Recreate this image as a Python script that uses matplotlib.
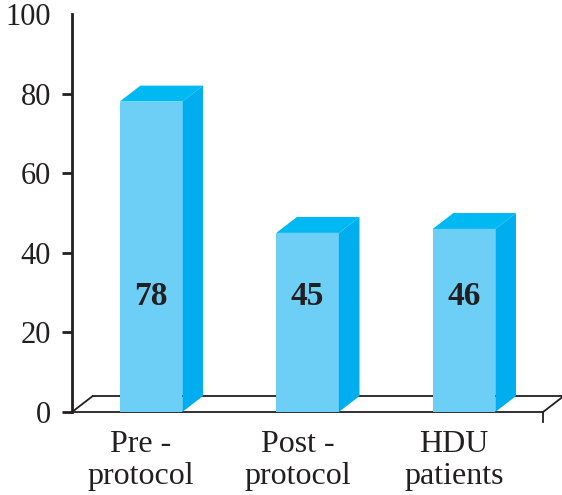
import matplotlib.pyplot as plt
from matplotlib.patches import Polygon

groups = ['Pre -\nprotocol', 'Post -\nprotocol', 'HDU\npatients']
values = [78, 45, 46]

front_col = '#6dcff6'
top_col = '#00b9f2'
side_col = '#00aeef'

plt.rcParams['font.family'] = ['Liberation Serif', 'DejaVu Serif']

fig = plt.figure(figsize=(5.62, 4.95), dpi=100)
ax = fig.add_axes([72 / 562, 83 / 495, 490 / 562, 398 / 495])

x0, x1 = -0.505, 2.626
ax.set_xlim(x0, x1)
ax.set_ylim(0, 100)

w = 0.40      # bar width
dx = 0.132    # depth offset in x
dy = 4.0      # depth offset in y

# floor of the 3d box
floor_r = 2.505
fl = dict(color='#231f20', lw=1.3, clip_on=False, zorder=1)
ax.plot([x0, floor_r], [0, 0], **fl)
ax.plot([x0 + dx, floor_r + dx], [dy, dy], **fl)
ax.plot([x0, x0 + dx], [0, dy], **fl)
ax.plot([floor_r, floor_r + dx], [0, dy], **fl)
ax.plot([floor_r, floor_r], [0, -2.4], **fl)

for i, v in enumerate(values):
    l, r = i - w / 2, i + w / 2
    ax.add_patch(Polygon([(l, 0), (r, 0), (r, v), (l, v)], closed=True,
                         facecolor=front_col, edgecolor='none', zorder=3))
    ax.add_patch(Polygon([(l, v), (r, v), (r + dx, v + dy), (l + dx, v + dy)], closed=True,
                         facecolor=top_col, edgecolor='none', zorder=3))
    ax.add_patch(Polygon([(r, 0), (r + dx, dy), (r + dx, v + dy), (r, v)], closed=True,
                         facecolor=side_col, edgecolor='none', zorder=3))
    ax.text(i, 29, str(v), ha='center', va='center', fontsize=24,
            fontweight='bold', color='#231f20', zorder=4)

for i, g in enumerate(groups):
    ax.text(i - 0.065, -4.5, g, ha='center', va='top', fontsize=23,
            color='#231f20', linespacing=1.12)

ax.set_xticks([])
ax.set_yticks(range(0, 101, 20))
ax.tick_params(axis='y', length=7, width=2, pad=8, labelsize=22,
               colors='#231f20')
ax.yaxis.get_major_ticks()[-1].tick1line.set_visible(False)

for s in ['top', 'right', 'bottom']:
    ax.spines[s].set_visible(False)
ax.spines['left'].set_linewidth(2)
ax.spines['left'].set_color('#231f20')
ax.patch.set_alpha(0)

fig.savefig('out.png', dpi=100)
